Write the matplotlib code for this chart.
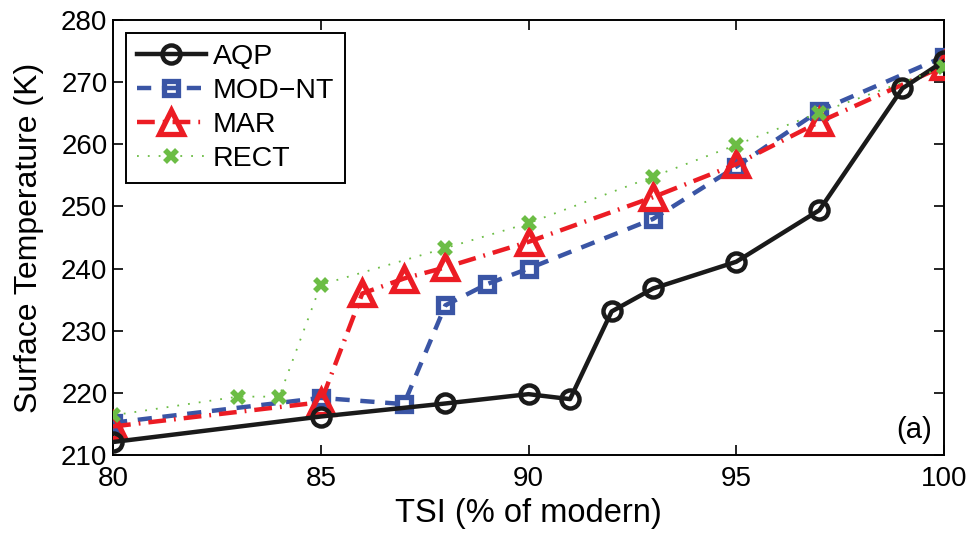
import matplotlib
matplotlib.use("Agg")
import matplotlib.pyplot as plt

plt.rcParams['font.family'] = ['Liberation Sans', 'DejaVu Sans']

# TSI (% of modern) e temperatura de superficie (K) para cada esquema
tsi_aqp = [80, 85, 88, 90, 91, 92, 93, 95, 97, 99, 100]
temp_aqp = [212.1, 216.2, 218.3, 219.8, 219.0, 233.1, 236.8, 241.1, 249.4, 269.0, 273.4]

tsi_mod = [80, 85, 87, 88, 89, 90, 93, 95, 97, 100]
temp_mod = [215.2, 219.2, 218.2, 234.1, 237.5, 240.0, 248.0, 256.4, 265.4, 274.1]

tsi_mar = [80, 85, 86, 87, 88, 90, 93, 95, 97, 100]
temp_mar = [214.6, 218.5, 236.0, 238.4, 240.2, 244.3, 251.5, 256.8, 263.6, 272.6]

tsi_rect = [80, 83, 84, 85, 88, 90, 93, 95, 97, 100]
temp_rect = [216.4, 219.4, 219.4, 237.4, 243.3, 247.3, 254.8, 259.9, 265.1, 272.4]

fig = plt.figure(figsize=(9.76, 5.36), dpi=100)
ax = fig.add_axes([0.1158, 0.151, 0.8514, 0.8117])

ax.plot(tsi_aqp, temp_aqp, color='#1a1a1a', linestyle='-', linewidth=3.2,
        marker='o', markersize=13, markerfacecolor='none',
        markeredgewidth=3.2, label='AQP', zorder=4)
ax.plot(tsi_mod, temp_mod, color='#3a55a5', linestyle=(0, (3.2, 2.4)), linewidth=3.2,
        marker='s', markersize=10.5, markerfacecolor='none',
        markeredgewidth=3.8, label='MOD\u2212NT', zorder=3)
ax.plot(tsi_mar, temp_mar, color='#ec1c24', linestyle=(0, (4.0, 1.8, 0.4, 1.8)), linewidth=3.2,
        marker='^', markersize=17, markerfacecolor='none',
        markeredgewidth=3.8, label='MAR', zorder=3)
ax.plot(tsi_rect, temp_rect, color='#6cbd45', linestyle=(0, (1.0, 5.0)), linewidth=1.3,
        marker='x', markersize=9, markeredgewidth=4.0, label='RECT', zorder=5)

ax.set_xlim(80, 100)
ax.set_ylim(210, 280)
ax.set_xticks([80, 85, 90, 95, 100])
ax.set_yticks(range(210, 281, 10))
ax.tick_params(direction='in', length=7, width=1.2, labelsize=20,
               top=True, right=True)
ax.tick_params(axis='x', pad=8)
ax.tick_params(axis='y', pad=4)
for s in ax.spines.values():
    s.set_linewidth(1.4)

ax.set_xlabel('TSI (% of modern)', fontsize=23.5, labelpad=4)
ax.set_ylabel('Surface Temperature (K)', fontsize=23, labelpad=12)

ax.text(0.986, 0.025, '(a)', transform=ax.transAxes, fontsize=21,
        ha='right', va='bottom')

leg = ax.legend(loc='upper left', fontsize=20.5, handlelength=2.4,
                handletextpad=0.25, labelspacing=0.28, borderpad=0.4,
                fancybox=False, framealpha=1, edgecolor='black',
                bbox_to_anchor=(0.0, 1.0), borderaxespad=0.45)
leg.get_frame().set_linewidth(1.4)

fig.savefig('out.png', dpi=100)
